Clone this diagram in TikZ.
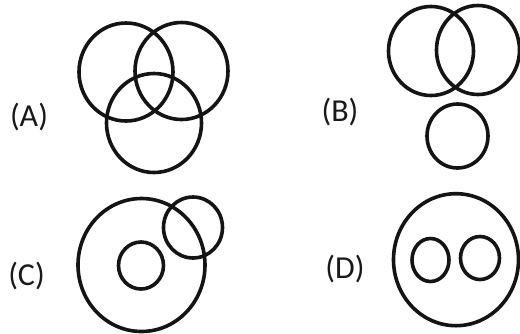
\documentclass[tikz,border=0pt]{standalone}
\usepackage{fontspec}
\setmainfont{Carlito}
\begin{document}
\begin{tikzpicture}[x=1pt,y=-1pt,
  ring/.style={draw=black!92,line width=3.6pt},
  lbl/.style={font=\fontsize{32}{36}\selectfont,text=black!90,inner sep=0pt}]
\useasboundingbox (0,0) rectangle (520,333);
\fill[white] (0,0) rectangle (520,333);
% (A)
\node[lbl] (la) at (29,117) {(A)};
\draw[ring] (126,72) ellipse [x radius=47,y radius=49];
\draw[ring] (181.5,71) ellipse [x radius=46.5,y radius=48.5];
\draw[ring] (154,123) ellipse [x radius=47.5,y radius=49.5];
% (B)
\node[lbl] (lb) at (340,112) {(B)};
\draw[ring] (431,51) ellipse [x radius=42.5,y radius=44.5];
\draw[ring] (478,50) ellipse [x radius=41.5,y radius=44.5];
\draw[ring] (457.5,136) ellipse [x radius=30.5,y radius=32];
% (C)
\node[lbl] (lc) at (26.5,276) {(C)};
\draw[ring] (141.5,265) ellipse [x radius=63.5,y radius=66.5];
\draw[ring] (141,265.5) ellipse [x radius=22.5,y radius=23.5];
\draw[ring] (193,227.5) ellipse [x radius=29.5,y radius=30.5];
% (D)
\node[lbl] (ld) at (345,269) {(D)};
\draw[ring] (456,259.7) ellipse [x radius=62.5,y radius=66];
\draw[ring] (430.5,260) ellipse [x radius=18.5,y radius=21.5];
\draw[ring] (480,258) ellipse [x radius=19.5,y radius=21.5];
\end{tikzpicture}
\end{document}
